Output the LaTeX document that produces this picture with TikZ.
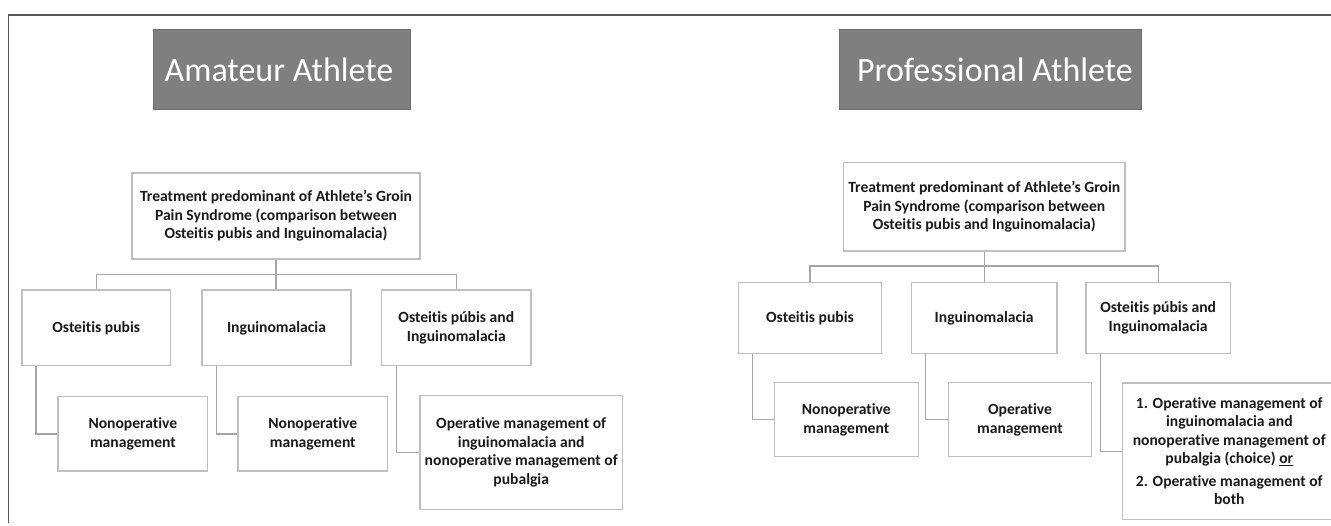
\documentclass[tikz,border=0pt]{standalone}
\usepackage{fontspec}
\setmainfont{Carlito}[Ligatures=NoCommon]
\definecolor{framec}{HTML}{595959}
\definecolor{boxc}{HTML}{BFBFBF}
\definecolor{linec}{HTML}{A6A6A6}
\definecolor{titlec}{HTML}{7F7F7F}
\definecolor{txtc}{HTML}{1A1A1A}
\begin{document}
\begin{tikzpicture}[x=1pt,y=-1pt,
  titlebox/.style={fill=titlec, draw=titlec!85!black, line width=0.8pt, inner sep=0pt},
  titletext/.style={text=white, inner sep=0pt, font=\fontsize{34}{40}\selectfont},
  tbox/.style={draw=boxc, line width=1.3pt, fill=white, text=txtc, align=center, inner sep=0pt,
    font=\fontsize{15.6}{18.5}\selectfont\bfseries},
  conn/.style={draw=linec, line width=1.3pt},
  frameline/.style={draw=framec, line width=1.3pt}
]
\useasboundingbox (0,0) rectangle (1331,525);
\draw[frameline] (1331,15) -- (8.3,15) -- (8.3,523);

% ---------- Amateur ----------
\node[titlebox, minimum width=257pt, minimum height=80pt] (t1) at (281.5,69) {};
\node[titletext] (t1txt) at (279,70) {Amateur Athlete};

\node[tbox, minimum width=288pt, minimum height=86pt] (m1) at (276,216)
  {Treatment predominant of Athlete's Groin\\Pain Syndrome (comparison between\\Osteitis pubis and Inguinomalacia)};

\node[tbox, minimum width=148.5pt, minimum height=75.7pt] (a1) at (96.25,327.9) {Osteitis pubis};
\node[tbox, minimum width=149pt, minimum height=75.7pt] (a2) at (276.5,327.9) {Inguinomalacia};
\node[tbox, minimum width=149.3pt, minimum height=75.7pt] (a3) at (456.3,327.9) {Osteitis púbis and\\Inguinomalacia};

\node[tbox, minimum width=149.8pt, minimum height=74.3pt] (b1) at (132.9,433.9) {Nonoperative\\management};
\node[tbox, minimum width=149.6pt, minimum height=74.3pt] (b2) at (312.8,433.9) {Nonoperative\\management};
\node[tbox, minimum width=202.7pt, minimum height=113.6pt] (b3) at (521.2,452.5)
  {Operative management of\\inguinomalacia and\\nonoperative management of\\pubalgia};

\draw[conn] (m1.south) -- (m1.south |- a2.north);
\draw[conn] (a1.north) -- ++(0,-15) -| (a3.north);
\draw[conn] ([xshift=14.5pt]a1.south west) |- (b1.west);
\draw[conn] ([xshift=15pt]a2.south west) |- (b2.west);
\draw[conn] ([xshift=15.7pt]a3.south west) |- (b3.west);

% ---------- Professional ----------
\node[titlebox, minimum width=302pt, minimum height=80pt] (t2) at (990,69) {};
\node[titletext] (t2txt) at (995,70) {Professional Athlete};

\node[tbox, minimum width=281.5pt, minimum height=88.3pt] (m2) at (984.25,206.85)
  {Treatment predominant of Athlete's Groin\\Pain Syndrome (comparison between\\Osteitis pubis and Inguinomalacia)};

\node[tbox, minimum width=143.3pt, minimum height=70.8pt] (p1) at (810,317.9) {Osteitis pubis};
\node[tbox, minimum width=145.5pt, minimum height=70.8pt] (p2) at (984.15,317.9) {Inguinomalacia};
\node[tbox, minimum width=144.3pt, minimum height=70.8pt] (p3) at (1158.15,317.9) {Osteitis púbis and\\Inguinomalacia};

\node[tbox, minimum width=143.8pt, minimum height=74pt] (q1) at (846.3,419.7) {Nonoperative\\management};
\node[tbox, minimum width=143.3pt, minimum height=74pt] (q2) at (1020,419.7) {Operative\\management};
\node[tbox, minimum width=213.4pt, minimum height=136.3pt] (q3) at (1229.3,451.15)
  {1. Operative management of\\inguinomalacia and\\nonoperative management of\\pubalgia (choice) \underline{or}\\[4pt]2. Operative management of\\both};

\draw[conn] (m2.south) -- (m2.south |- p2.north);
\draw[conn] (p1.north) -- ++(0,-16) -| (p3.north);
\draw[conn] ([xshift=14.8pt]p1.south west) |- (q1.west);
\draw[conn] ([xshift=14.8pt]p2.south west) |- (q2.west);
\draw[conn] ([xshift=15pt]p3.south west) |- (q3.west);
\end{tikzpicture}
\end{document}
